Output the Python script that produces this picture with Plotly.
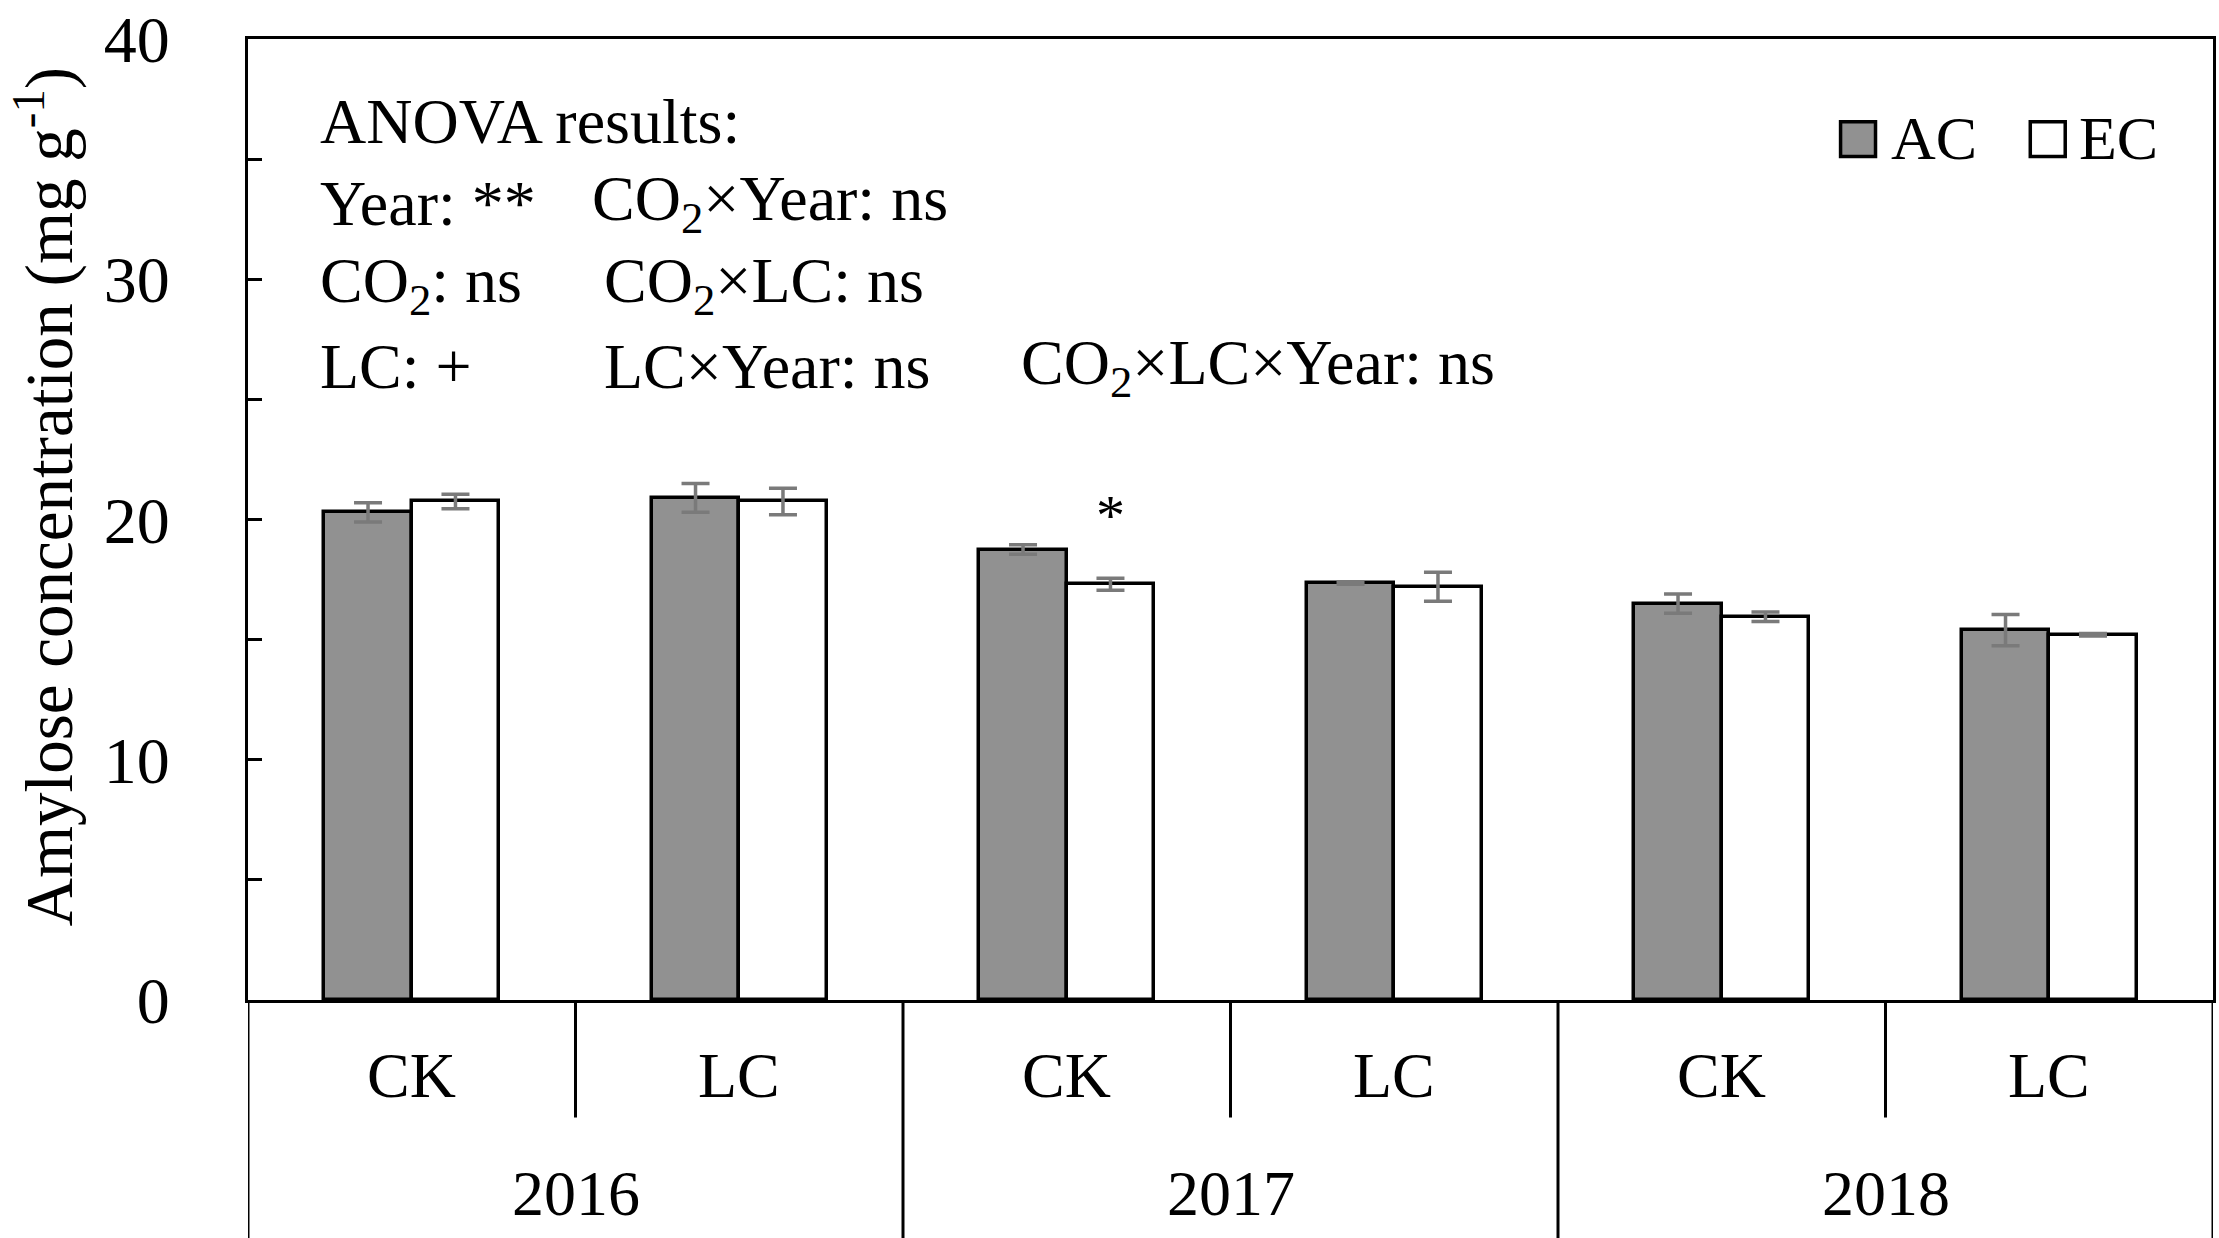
import plotly.graph_objects as go

# amylose concentration (mg g-1)
years = ["2016", "2017", "2018"]
treatments = ["CK", "LC", "CK", "LC", "CK", "LC"]
ac_mean = [20.3, 20.9, 18.75, 17.35, 16.5, 15.4]
ac_err = [0.4, 0.6, 0.2, 0.05, 0.4, 0.65]
ec_mean = [20.75, 20.75, 17.3, 17.2, 15.95, 15.2]
ec_err = [0.3, 0.55, 0.25, 0.6, 0.2, 0.05]
ec_sig = ["", "", "*", "", "", ""]

anova_lines = [
    ["ANOVA results:"],
    ["Year: **", "CO<sub>2</sub>×Year: ns"],
    ["CO<sub>2</sub>: ns", "CO<sub>2</sub>×LC: ns"],
    ["LC: +", "LC×Year: ns", "CO<sub>2</sub>×LC×Year: ns"],
]

FONT = "Liberation Serif, Times New Roman, serif"
W, H = 2219, 1238
# plot area in page pixels
X0, X1, Y0, Y1 = 248, 2216, 35, 1000

xpos = [i + 0.5 for i in range(len(treatments))]
bw = 0.267

fig = go.Figure()
fig.add_trace(go.Bar(
    x=xpos, y=ac_mean, width=bw, offset=-bw, name="AC",
    marker=dict(color="#919191", line=dict(color="black", width=3.5)),
    error_y=dict(type="data", array=ac_err, color="#7a7a7a", thickness=3.5, width=14),
    showlegend=False,
))
fig.add_trace(go.Bar(
    x=xpos, y=ec_mean, width=bw, offset=0, name="EC",
    marker=dict(color="white", line=dict(color="black", width=3.5)),
    error_y=dict(type="data", array=ec_err, color="#7a7a7a", thickness=3.5, width=14),
    showlegend=False,
))

def px_x(px):
    return (px - X0) / (X1 - X0)

def px_y(py):
    return (Y1 - py) / (Y1 - Y0)

# significance marks
for x, m, e, s in zip(xpos, ec_mean, ec_err, ec_sig):
    if s:
        fig.add_annotation(x=x + bw / 2, y=m + e + 1.2, text=s, showarrow=False,
                           yanchor="bottom", font=dict(size=58))

# ANOVA text block
col_x = [[318], [318, 591], [318, 603], [318, 603, 1020]]
row_y = [118, 200, 282, 364]
for row, xs, y in zip(anova_lines, col_x, row_y):
    for txt, x in zip(row, xs):
        fig.add_annotation(xref="paper", yref="paper", x=px_x(x), y=px_y(y),
                           text=txt, showarrow=False, xanchor="left", yanchor="middle",
                           font=dict(size=64))

# category labels under the axis
for x, t in zip(xpos, treatments):
    fig.add_annotation(x=x, xref="x", yref="paper", y=px_y(1076), text=t,
                       showarrow=False, yanchor="middle", font=dict(size=64))
for i, yr in enumerate(years):
    fig.add_annotation(x=2 * i + 1, xref="x", yref="paper", y=px_y(1194), text=yr,
                       showarrow=False, yanchor="middle", font=dict(size=64))

# separator lines below the axis
shapes = []
for xv in [0, 2, 4, 6]:
    shapes.append(dict(type="line", xref="x", yref="paper", x0=xv, x1=xv,
                       y0=0, y1=px_y(H + 5), line=dict(color="black", width=3)))
for xv in [1, 3, 5]:
    shapes.append(dict(type="line", xref="x", yref="paper", x0=xv, x1=xv,
                       y0=0, y1=px_y(1118), line=dict(color="black", width=3)))

# legend drawn by hand so the swatches match the original size
for fill, x0, x1, lab, tx in [("#919191", 1843, 1878, "AC", 1892), ("white", 2033, 2068, "EC", 2080)]:
    shapes.append(dict(type="rect", xref="paper", yref="paper",
                       x0=px_x(x0), x1=px_x(x1), y0=px_y(153), y1=px_y(118),
                       fillcolor=fill, line=dict(color="black", width=3.5)))
    fig.add_annotation(xref="paper", yref="paper", x=px_x(tx), y=px_y(134), text=lab,
                       showarrow=False, xanchor="left", yanchor="middle", font=dict(size=62))

# y axis title
fig.add_annotation(xref="paper", yref="paper", x=px_x(44), y=px_y(494),
                   text="Amylose concentration (mg g<sup>-1</sup>)", textangle=-90,
                   showarrow=False, xanchor="center", yanchor="middle", font=dict(size=67))

fig.update_layout(
    width=W, height=H,
    margin=dict(l=X0, r=W - X1, t=Y0, b=H - Y1),
    plot_bgcolor="white", paper_bgcolor="white",
    font=dict(family=FONT, color="black"),
    shapes=shapes,
    bargap=0,
)
fig.update_xaxes(range=[0, 6], showticklabels=False, ticks="", showgrid=False,
                 zeroline=False, showline=True, linecolor="black", linewidth=3, mirror=True)
fig.update_yaxes(range=[0, 40], dtick=10, ticks="inside", ticklen=14, tickwidth=3,
                 tickcolor="black", minor=dict(dtick=5, ticks="inside", ticklen=14,
                                                tickwidth=3, tickcolor="black"),
                 showgrid=False, zeroline=False, showline=True, linecolor="black",
                 linewidth=3, mirror=True, tickfont=dict(size=66), ticklabelstandoff=62,
                 ticklabeloverflow="allow")

# drop the default page margin so the figure sits at the window's corner
fig.write_html("out.html", config={"displayModeBar": False},
               post_script="document.body.style.margin='0px';")
